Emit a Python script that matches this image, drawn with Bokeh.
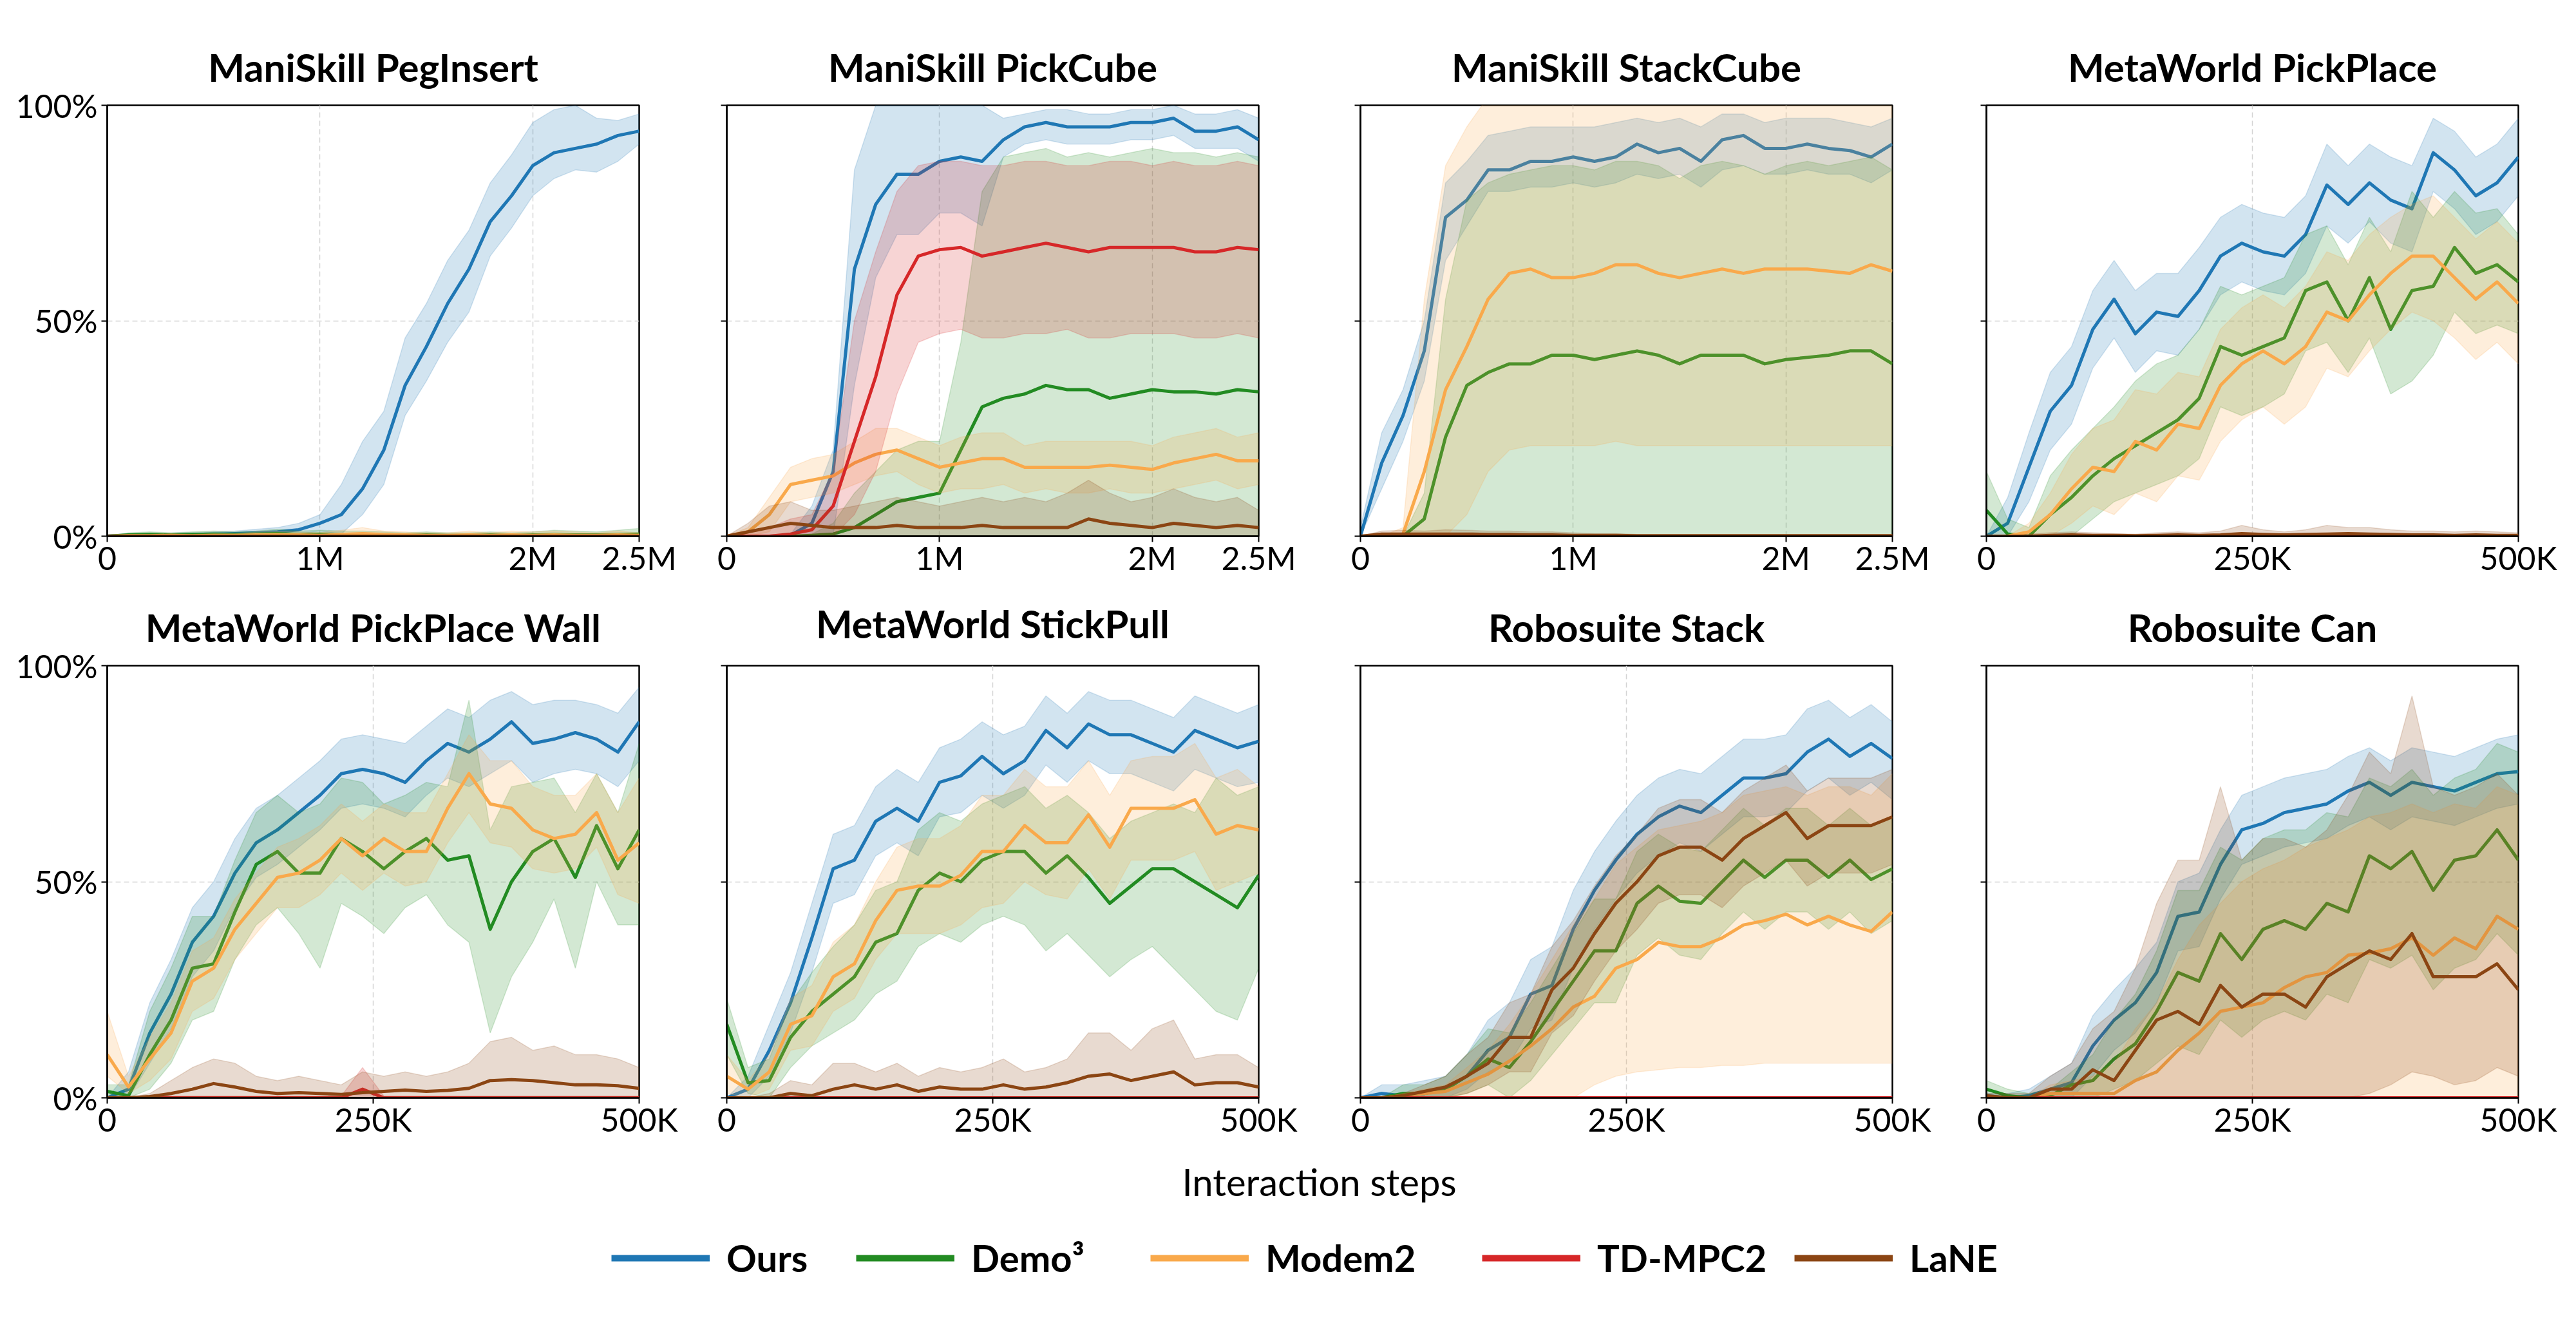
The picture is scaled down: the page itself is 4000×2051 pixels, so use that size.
from bokeh.plotting import figure
from bokeh.layouts import column, row
from bokeh.models import Range1d, FixedTicker, Legend, LegendItem, Label, CustomJSTickFormatter
from bokeh.embed import file_html
from bokeh.resources import INLINE

METHODS = ["Ours", "Demo\u00b3", "Modem2", "TD-MPC2", "LaNE"]
COLORS = ["#1f77b4", "#228b22", "#f9a94b", "#d62728", "#8b4513"]

X_M = [i * 100000 for i in range(26)]   # 0 .. 2.5M sampling grid
X_K = [i * 20000 for i in range(26)]    # 0 .. 500K sampling grid
X_TICKS_M = [0, 1000000, 2000000, 2500000]
X_TICKS_K = [0, 250000, 500000]
Y_TICKS = [0, 0.5, 1.0]

Z = [0, 0, 0, 0, 0, 0, 0, 0, 0, 0, 0, 0, 0, 0, 0, 0, 0, 0, 0, 0, 0, 0, 0, 0, 0, 0]

# ---------------- ManiSkill PegInsert ----------------
PEG_OURS = [0, .002, .003, .003, .004, .005, .006, .008, .010, .015, .030, .050, .110, .200, .350, .440, .540, .620, .730, .790, .860, .890, .900, .910, .930, .940]
PEG_OURS_LO = [0, 0, 0, 0, 0, 0, 0, 0, 0, .005, .012, .005, .050, .120, .280, .360, .450, .520, .650, .715, .790, .830, .850, .845, .870, .910]
PEG_OURS_HI = [.004, .005, .006, .007, .008, .010, .012, .016, .020, .030, .050, .120, .220, .290, .460, .540, .640, .710, .820, .885, .960, .990, 1.0, .970, .965, .980]
PEG_DEMO = [0, .003, .004, .003, .004, .005, .004, .005, .006, .004, .005, .004, .004, .003, .002, .003, .002, .002, .003, .002, .003, .004, .003, .003, .004, .005]
PEG_DEMO_HI = [0, .008, .010, .008, .010, .012, .010, .012, .016, .012, .014, .012, .012, .010, .008, .010, .008, .008, .010, .008, .010, .014, .012, .010, .014, .018]
PEG_MODEM = [0, .001, .001, .002, .001, .002, .002, .003, .003, .003, .002, .004, .006, .004, .003, .002, .002, .003, .002, .003, .002, .003, .002, .002, .003, .002]
PEG_MODEM_HI = [0, .004, .004, .006, .004, .006, .006, .010, .012, .010, .008, .014, .020, .012, .010, .008, .008, .012, .008, .012, .010, .012, .010, .008, .012, .008]

# ---------------- ManiSkill PickCube ----------------
PICK_OURS = [0, 0, 0, .002, .03, .15, .62, .77, .84, .84, .87, .88, .87, .92, .95, .96, .95, .95, .95, .96, .96, .97, .94, .94, .95, .92]
PICK_OURS_LO = [0, 0, 0, 0, 0, 0, .35, .60, .70, .70, .75, .75, .72, .88, .91, .92, .91, .91, .91, .92, .92, .93, .90, .90, .90, .87]
PICK_OURS_HI = [0, 0, 0, .005, .07, .20, .85, 1.0, 1.0, 1.0, 1.0, 1.0, 1.0, .97, .98, .99, .99, .98, .98, .99, .99, 1.0, .98, .98, .99, .97]
PICK_DEMO = [0, 0, 0, 0, .002, .005, .02, .05, .08, .09, .10, .20, .30, .32, .33, .35, .34, .34, .32, .33, .34, .335, .335, .33, .34, .335]
PICK_DEMO_HI = [0, 0, 0, 0, .005, .03, .10, .15, .20, .22, .22, .45, .80, .88, .89, .90, .88, .89, .88, .89, .90, .89, .89, .88, .89, .88]
PICK_MODEM = [0, .01, .05, .12, .13, .14, .17, .19, .20, .18, .16, .17, .18, .18, .16, .16, .16, .16, .165, .16, .155, .17, .18, .19, .175, .175]
PICK_MODEM_LO = [0, 0, .01, .08, .09, .10, .12, .14, .15, .12, .10, .11, .11, .12, .10, .11, .10, .10, .11, .10, .10, .11, .12, .13, .11, .12]
PICK_MODEM_HI = [0, .02, .09, .16, .18, .19, .22, .25, .25, .23, .21, .23, .24, .24, .21, .22, .22, .22, .22, .22, .21, .23, .24, .25, .23, .24]
PICK_TDMPC = [0, 0, 0, .005, .015, .07, .22, .37, .56, .65, .665, .67, .65, .66, .67, .68, .67, .66, .67, .67, .67, .67, .66, .66, .67, .665]
PICK_TDMPC_LO = [0, 0, 0, 0, 0, 0, .05, .15, .33, .45, .47, .48, .46, .46, .47, .47, .48, .46, .46, .47, .47, .47, .46, .46, .47, .46]
PICK_TDMPC_HI = [0, .01, .02, .04, .05, .15, .50, .66, .80, .86, .87, .87, .86, .86, .87, .87, .86, .86, .87, .87, .86, .87, .86, .86, .87, .86]
PICK_LANE = [0, .01, .02, .03, .025, .02, .02, .02, .025, .02, .02, .02, .025, .02, .02, .02, .02, .04, .03, .025, .02, .03, .025, .02, .025, .02]
PICK_LANE_HI = [0, .03, .07, .08, .06, .06, .07, .08, .09, .08, .07, .08, .09, .08, .09, .08, .10, .13, .10, .08, .09, .11, .09, .08, .09, .06]

# ---------------- ManiSkill StackCube ----------------
STACK_OURS = [0, .17, .28, .43, .74, .78, .85, .85, .87, .87, .88, .87, .88, .91, .89, .90, .87, .92, .93, .90, .90, .91, .90, .895, .88, .91]
STACK_OURS_LO = [0, .11, .22, .36, .64, .72, .80, .80, .81, .81, .82, .81, .82, .84, .83, .84, .81, .85, .86, .84, .84, .85, .84, .84, .82, .85]
STACK_OURS_HI = [.02, .24, .34, .50, .82, .87, .93, .94, .95, .95, .95, .95, .96, .97, .96, .97, .95, .98, .98, .96, .97, .97, .97, .96, .95, .97]
STACK_DEMO = [0, 0, 0, .04, .23, .35, .38, .40, .40, .42, .42, .41, .42, .43, .42, .40, .42, .42, .42, .40, .41, .415, .42, .43, .43, .40]
STACK_DEMO_HI = [0, 0, 0, .10, .55, .78, .82, .84, .85, .86, .86, .85, .87, .87, .86, .83, .86, .87, .86, .84, .86, .87, .86, .87, .88, .85]
STACK_MODEM = [0, 0, .005, .15, .34, .44, .55, .61, .62, .60, .60, .61, .63, .63, .61, .60, .61, .62, .61, .62, .62, .62, .615, .61, .63, .615]
STACK_MODEM_LO = [0, 0, 0, 0, 0, .05, .15, .20, .21, .21, .21, .21, .22, .21, .21, .21, .21, .21, .21, .21, .21, .21, .21, .21, .21, .21]
STACK_MODEM_HI = [0, 0, .02, .55, .86, .95, 1.02, 1.02, 1.02, 1.02, 1.02, 1.02, 1.02, 1.02, 1.02, 1.02, 1.02, 1.02, 1.02, 1.02, 1.02, 1.02, 1.02, 1.02, 1.02, 1.02]
STACK_LANE = [0, .005, .005, .005, .005, .005, .004, .004, .003, .003, .002, .002, .002, .001, .001, .001, .001, .001, .001, .001, .001, .001, .001, .001, .001, .001]
STACK_LANE_HI = [0, .012, .014, .012, .015, .014, .012, .012, .010, .010, .008, .006, .006, .004, .004, .004, .004, .004, .004, .004, .004, .004, .004, .004, .004, .004]

# ---------------- MetaWorld PickPlace ----------------
PP_OURS = [0, .03, .16, .29, .35, .48, .55, .47, .52, .51, .57, .65, .68, .66, .65, .70, .815, .77, .82, .78, .76, .89, .85, .79, .82, .88]
PP_OURS_LO = [0, 0, .08, .20, .26, .39, .46, .38, .43, .42, .48, .56, .59, .57, .56, .61, .72, .68, .73, .68, .66, .80, .76, .70, .73, .79]
PP_OURS_HI = [0, .09, .24, .38, .44, .57, .64, .57, .61, .61, .67, .74, .77, .75, .74, .79, .91, .86, .91, .88, .86, .97, .94, .88, .91, .97]
PP_DEMO = [.06, .005, 0, .05, .09, .14, .18, .21, .24, .27, .32, .44, .42, .44, .46, .57, .59, .50, .60, .48, .57, .58, .67, .61, .63, .59]
PP_DEMO_LO = [0, 0, 0, 0, 0, .04, .08, .10, .12, .14, .18, .30, .28, .30, .33, .43, .45, .38, .46, .33, .36, .42, .52, .47, .49, .47]
PP_DEMO_HI = [.15, .04, .02, .14, .20, .25, .30, .36, .40, .42, .48, .58, .56, .58, .60, .70, .72, .63, .74, .66, .80, .74, .80, .75, .76, .70]
PP_MODEM = [0, 0, .01, .05, .11, .16, .15, .22, .20, .26, .25, .35, .40, .43, .40, .44, .52, .50, .56, .61, .65, .65, .60, .55, .59, .54]
PP_MODEM_LO = [0, 0, 0, 0, .03, .07, .05, .10, .08, .14, .13, .22, .27, .30, .26, .30, .39, .37, .43, .48, .52, .50, .46, .41, .45, .40]
PP_MODEM_HI = [0, 0, .03, .10, .19, .25, .27, .34, .33, .38, .37, .48, .53, .56, .53, .58, .66, .64, .70, .74, .77, .79, .74, .69, .73, .68]
PP_LANE = [0, 0, 0, .002, .003, .002, .002, .001, .002, .003, .002, .003, .006, .004, .003, .004, .005, .006, .005, .004, .003, .003, .002, .003, .002, .002]
PP_LANE_HI = [0, 0, .005, .008, .010, .008, .006, .005, .008, .010, .008, .012, .025, .015, .010, .015, .025, .020, .020, .015, .012, .012, .010, .012, .010, .008]

# ---------------- MetaWorld PickPlace Wall ----------------
PPW_OURS = [0, .02, .15, .24, .36, .42, .52, .59, .62, .66, .70, .75, .76, .75, .73, .78, .82, .80, .83, .87, .82, .83, .845, .83, .80, .87]
PPW_OURS_LO = [0, 0, .08, .16, .28, .34, .44, .51, .54, .58, .62, .67, .68, .67, .65, .70, .74, .72, .75, .78, .73, .75, .76, .75, .72, .78]
PPW_OURS_HI = [0, .06, .22, .32, .44, .50, .60, .67, .70, .74, .78, .83, .84, .83, .82, .86, .90, .88, .92, .94, .91, .92, .92, .91, .89, .95]
PPW_DEMO = [.015, .005, .10, .18, .30, .31, .43, .54, .57, .52, .52, .60, .57, .53, .57, .60, .55, .56, .39, .50, .57, .60, .51, .63, .53, .62]
PPW_DEMO_LO = [0, 0, .02, .08, .18, .20, .32, .40, .44, .38, .30, .45, .42, .38, .44, .47, .40, .36, .15, .28, .36, .46, .30, .50, .40, .40]
PPW_DEMO_HI = [.03, .03, .20, .30, .42, .42, .55, .66, .70, .66, .68, .74, .73, .68, .70, .73, .72, .92, .62, .72, .73, .74, .66, .75, .66, .82]
PPW_MODEM = [.10, .025, .09, .15, .27, .30, .39, .45, .51, .52, .55, .60, .56, .60, .57, .57, .67, .75, .68, .67, .62, .60, .61, .66, .55, .59]
PPW_MODEM_LO = [.05, .01, .04, .09, .20, .23, .32, .38, .44, .44, .47, .52, .48, .52, .49, .50, .59, .66, .59, .58, .53, .52, .53, .58, .47, .45]
PPW_MODEM_HI = [.20, .05, .14, .22, .34, .37, .46, .52, .58, .60, .63, .68, .64, .68, .66, .66, .75, .84, .78, .78, .72, .70, .70, .75, .66, .74]
PPW_TDMPC = [0, 0, 0, 0, 0, 0, 0, 0, 0, 0, 0, 0, .02, 0, 0, 0, 0, 0, 0, 0, 0, 0, 0, 0, 0, 0]
PPW_TDMPC_HI = [.004, .004, .004, .004, .004, .004, .004, .004, .004, .004, .004, .004, .07, .004, .004, .004, .004, .004, .004, .004, .004, .004, .004, .004, .004, .004]
PPW_LANE = [0, 0, .003, .01, .02, .033, .025, .015, .01, .012, .01, .008, .012, .015, .018, .015, .017, .022, .04, .042, .04, .035, .03, .03, .028, .022]
PPW_LANE_HI = [0, 0, .01, .04, .07, .09, .08, .05, .04, .05, .04, .03, .06, .05, .06, .05, .06, .08, .13, .14, .11, .12, .10, .10, .09, .07]

# ---------------- MetaWorld StickPull ----------------
SP_OURS = [0, .02, .11, .22, .37, .53, .55, .64, .67, .64, .73, .745, .79, .75, .78, .85, .81, .865, .84, .84, .82, .80, .85, .83, .81, .825]
SP_OURS_LO = [0, 0, .05, .15, .29, .45, .47, .56, .59, .56, .65, .66, .70, .67, .70, .77, .73, .78, .75, .75, .73, .71, .76, .74, .72, .73]
SP_OURS_HI = [0, .05, .17, .29, .45, .61, .63, .72, .76, .73, .81, .83, .87, .84, .86, .93, .89, .94, .92, .92, .90, .88, .93, .91, .89, .91]
SP_DEMO = [.17, .035, .04, .14, .20, .24, .28, .36, .38, .48, .52, .50, .55, .57, .57, .52, .56, .51, .45, .49, .53, .53, .50, .47, .44, .515]
SP_DEMO_LO = [.10, .01, 0, .07, .12, .15, .18, .24, .27, .35, .38, .36, .40, .42, .40, .34, .38, .33, .28, .32, .35, .30, .25, .20, .18, .30]
SP_DEMO_HI = [.23, .07, .09, .22, .29, .35, .40, .48, .50, .62, .66, .64, .68, .70, .72, .67, .70, .66, .60, .64, .66, .68, .66, .74, .70, .72]
SP_MODEM = [.05, .02, .06, .17, .19, .28, .31, .41, .48, .49, .49, .515, .57, .57, .63, .59, .59, .655, .58, .67, .67, .67, .69, .61, .63, .62]
SP_MODEM_LO = [.01, 0, .02, .11, .12, .20, .23, .32, .38, .38, .38, .40, .44, .45, .50, .47, .46, .53, .46, .55, .55, .55, .57, .48, .50, .52]
SP_MODEM_HI = [.10, .04, .10, .23, .26, .36, .40, .50, .58, .60, .60, .63, .70, .70, .76, .72, .72, .78, .70, .78, .79, .79, .82, .74, .76, .72]
SP_LANE = [0, 0, 0, .01, .005, .02, .03, .02, .03, .015, .025, .02, .02, .03, .02, .025, .035, .05, .055, .04, .05, .06, .03, .035, .035, .025]
SP_LANE_HI = [0, 0, .01, .04, .03, .08, .08, .06, .08, .05, .07, .06, .07, .09, .06, .07, .09, .15, .15, .11, .16, .18, .09, .10, .10, .07]

# ---------------- Robosuite Stack ----------------
RS_OURS = [0, .01, .005, .01, .02, .05, .11, .14, .24, .26, .39, .48, .55, .61, .65, .675, .66, .70, .74, .74, .75, .80, .83, .79, .82, .785]
RS_OURS_LO = [0, 0, 0, 0, 0, .02, .06, .08, .16, .18, .30, .39, .46, .52, .56, .59, .57, .61, .65, .65, .66, .71, .74, .70, .73, .69]
RS_OURS_HI = [0, .03, .03, .04, .05, .10, .18, .22, .32, .35, .48, .57, .64, .70, .74, .76, .75, .79, .83, .83, .84, .90, .92, .88, .91, .87]
RS_DEMO = [0, 0, .01, .01, .02, .05, .09, .07, .13, .20, .27, .34, .34, .45, .49, .455, .45, .50, .55, .51, .55, .55, .51, .55, .505, .53]
RS_DEMO_LO = [0, 0, 0, 0, 0, .01, .03, 0, .04, .10, .16, .22, .22, .33, .37, .33, .32, .38, .43, .39, .43, .43, .39, .43, .38, .41]
RS_DEMO_HI = [0, 0, .03, .03, .05, .10, .16, .15, .22, .30, .38, .46, .46, .57, .61, .58, .57, .62, .67, .63, .67, .67, .63, .67, .63, .65]
RS_MODEM = [0, 0, .005, .01, .015, .035, .055, .085, .12, .16, .21, .235, .30, .32, .36, .35, .35, .37, .40, .41, .425, .40, .42, .40, .385, .43]
RS_MODEM_LO = [0, 0, 0, 0, 0, 0, 0, 0, 0, 0, 0, .03, .05, .06, .065, .07, .07, .075, .075, .08, .08, .08, .08, .08, .08, .08]
RS_MODEM_HI = [0, 0, .01, .02, .03, .07, .11, .17, .24, .32, .40, .46, .54, .58, .62, .63, .64, .66, .70, .71, .72, .70, .72, .72, .70, .75]
RS_LANE = [0, 0, .005, .015, .025, .05, .08, .14, .14, .25, .30, .38, .45, .50, .56, .58, .58, .55, .60, .63, .66, .60, .63, .63, .63, .65]
RS_LANE_LO = [0, 0, 0, 0, 0, .01, .03, .06, .06, .15, .19, .27, .34, .39, .45, .47, .47, .44, .49, .52, .55, .49, .52, .52, .52, .54]
RS_LANE_HI = [0, 0, .01, .03, .05, .10, .14, .22, .24, .35, .41, .49, .56, .61, .67, .69, .69, .66, .71, .74, .77, .71, .74, .74, .74, .76]

# ---------------- Robosuite Can ----------------
RC_OURS = [.005, 0, .005, .02, .035, .12, .18, .22, .29, .42, .43, .54, .62, .635, .66, .67, .68, .71, .73, .70, .73, .72, .71, .73, .75, .755]
RC_OURS_LO = [0, 0, 0, 0, 0, .05, .11, .15, .22, .34, .35, .46, .54, .56, .58, .59, .60, .63, .65, .62, .65, .64, .63, .65, .67, .68]
RC_OURS_HI = [.01, .01, .02, .05, .08, .19, .25, .30, .36, .50, .52, .62, .70, .72, .74, .75, .76, .79, .81, .78, .81, .80, .79, .81, .83, .84]
RC_DEMO = [.02, .005, 0, .005, .03, .04, .09, .125, .20, .29, .27, .38, .32, .39, .41, .39, .45, .43, .56, .53, .57, .48, .55, .56, .62, .55]
RC_DEMO_LO = [0, 0, 0, 0, 0, 0, .02, .04, .08, .12, .10, .18, .14, .18, .20, .18, .24, .22, .32, .30, .33, .25, .30, .32, .38, .33]
RC_DEMO_HI = [.04, .02, .01, .02, .06, .10, .18, .24, .34, .48, .48, .58, .55, .60, .62, .62, .66, .65, .74, .72, .76, .70, .74, .76, .82, .80]
RC_MODEM = [0, 0, 0, .01, .01, .01, .01, .04, .06, .11, .15, .20, .21, .22, .255, .28, .29, .33, .335, .345, .37, .33, .37, .345, .42, .39]
RC_MODEM_HI = [0, 0, 0, .03, .04, .05, .08, .16, .22, .32, .40, .45, .50, .53, .55, .58, .60, .62, .65, .66, .68, .66, .68, .67, .72, .70]
RC_LANE = [.005, 0, 0, .02, .02, .065, .04, .11, .18, .20, .17, .26, .21, .24, .24, .21, .28, .31, .34, .32, .38, .28, .28, .28, .31, .25]
RC_LANE_LO = [0, 0, 0, 0, 0, 0, 0, 0, 0, 0, 0, 0, 0, 0, 0, 0, 0, 0, .01, .03, .06, .05, .03, .04, .07, .05]
RC_LANE_HI = [.01, .01, .01, .05, .08, .16, .20, .30, .45, .55, .55, .72, .55, .60, .60, .58, .62, .70, .80, .75, .93, .72, .70, .72, .75, .70]

# series order: Ours, Demo3, Modem2, TD-MPC2, LaNE  -> (mean, lower, upper)
PANELS = [
    ("ManiSkill PegInsert", X_M, 2500000, X_TICKS_M,
     [(PEG_OURS, PEG_OURS_LO, PEG_OURS_HI), (PEG_DEMO, Z, PEG_DEMO_HI), (PEG_MODEM, Z, PEG_MODEM_HI), (Z, Z, Z), (Z, Z, Z)]),
    ("ManiSkill PickCube", X_M, 2500000, X_TICKS_M,
     [(PICK_OURS, PICK_OURS_LO, PICK_OURS_HI), (PICK_DEMO, Z, PICK_DEMO_HI), (PICK_MODEM, PICK_MODEM_LO, PICK_MODEM_HI),
      (PICK_TDMPC, PICK_TDMPC_LO, PICK_TDMPC_HI), (PICK_LANE, Z, PICK_LANE_HI)]),
    ("ManiSkill StackCube", X_M, 2500000, X_TICKS_M,
     [(STACK_OURS, STACK_OURS_LO, STACK_OURS_HI), (STACK_DEMO, Z, STACK_DEMO_HI), (STACK_MODEM, STACK_MODEM_LO, STACK_MODEM_HI),
      (Z, Z, Z), (STACK_LANE, Z, STACK_LANE_HI)]),
    ("MetaWorld PickPlace", X_K, 500000, X_TICKS_K,
     [(PP_OURS, PP_OURS_LO, PP_OURS_HI), (PP_DEMO, PP_DEMO_LO, PP_DEMO_HI), (PP_MODEM, PP_MODEM_LO, PP_MODEM_HI),
      (Z, Z, Z), (PP_LANE, Z, PP_LANE_HI)]),
    ("MetaWorld PickPlace Wall", X_K, 500000, X_TICKS_K,
     [(PPW_OURS, PPW_OURS_LO, PPW_OURS_HI), (PPW_DEMO, PPW_DEMO_LO, PPW_DEMO_HI), (PPW_MODEM, PPW_MODEM_LO, PPW_MODEM_HI),
      (PPW_TDMPC, Z, PPW_TDMPC_HI), (PPW_LANE, Z, PPW_LANE_HI)]),
    ("MetaWorld StickPull", X_K, 500000, X_TICKS_K,
     [(SP_OURS, SP_OURS_LO, SP_OURS_HI), (SP_DEMO, SP_DEMO_LO, SP_DEMO_HI), (SP_MODEM, SP_MODEM_LO, SP_MODEM_HI),
      (Z, Z, Z), (SP_LANE, Z, SP_LANE_HI)]),
    ("Robosuite Stack", X_K, 500000, X_TICKS_K,
     [(RS_OURS, RS_OURS_LO, RS_OURS_HI), (RS_DEMO, RS_DEMO_LO, RS_DEMO_HI), (RS_MODEM, RS_MODEM_LO, RS_MODEM_HI),
      (Z, Z, Z), (RS_LANE, RS_LANE_LO, RS_LANE_HI)]),
    ("Robosuite Can", X_K, 500000, X_TICKS_K,
     [(RC_OURS, RC_OURS_LO, RC_OURS_HI), (RC_DEMO, RC_DEMO_LO, RC_DEMO_HI), (RC_MODEM, Z, RC_MODEM_HI),
      (Z, Z, Z), (RC_LANE, RC_LANE_LO, RC_LANE_HI)]),
]

FONT = "Lato"
COL_W = [1060, 975, 975, 990]
COL_BL = [166, 68, 77, 74]
COL_BR = [68, 81, 72, 90]
ROW_H = [898, 892]
ROW_BT = [163, 135]
ROW_BB = [64, 86]

X_FMT = CustomJSTickFormatter(code="""
if (tick >= 1000000) { return (tick / 1000000) + 'M'; }
if (tick > 0) { return (tick / 1000) + 'K'; }
return '0';
""")
Y_FMT = CustomJSTickFormatter(code="return Math.round(tick * 100) + '%';")
Y_EMPTY = CustomJSTickFormatter(code="return '';")


def make_panel(idx, spec):
    title, xs, xmax, xticks, series = spec
    r, c = divmod(idx, 4)
    p = figure(width=COL_W[c], height=ROW_H[r],
               x_range=Range1d(0, xmax), y_range=Range1d(0, 1),
               output_backend="svg", toolbar_location=None,
               min_border_left=COL_BL[c], min_border_right=COL_BR[c],
               min_border_top=ROW_BT[r], min_border_bottom=ROW_BB[r])
    p.title.text = title
    p.title.align = "center"
    p.title.text_font = FONT
    p.title.text_font_style = "bold"
    p.title.text_font_size = "60px"
    p.title.text_color = "black"
    p.title.standoff = 59 if idx == 5 else 47
    p.background_fill_color = "white"
    p.border_fill_color = "white"
    p.outline_line_color = "black"
    p.outline_line_width = 2.5
    p.outline_line_alpha = 1.0

    p.xaxis.ticker = FixedTicker(ticks=xticks)
    p.xaxis.formatter = X_FMT
    p.yaxis.ticker = FixedTicker(ticks=Y_TICKS)
    p.yaxis.formatter = Y_FMT if c == 0 else Y_EMPTY
    for ax in (p.xaxis[0], p.yaxis[0]):
        ax.axis_line_color = "black"
        ax.axis_line_width = 2.5
        ax.major_tick_line_color = "black"
        ax.major_tick_line_width = 2
        ax.major_tick_out = 9
        ax.major_tick_in = 0
        ax.minor_tick_line_color = None
        ax.major_label_text_font = FONT
        ax.major_label_text_font_size = "50px"
        ax.major_label_text_color = "black"
    p.xaxis[0].major_label_standoff = -6
    p.yaxis[0].major_label_standoff = 6
    for g in (p.xgrid[0], p.ygrid[0]):
        g.grid_line_color = "#d4d4d4"
        g.grid_line_dash = "8 5"
        g.grid_line_width = 1.5

    for (mean, lo, hi), color in zip(series, COLORS):
        p.varea(x=xs, y1=lo, y2=hi, fill_color=color, fill_alpha=0.2)
        p.line(x=xs, y=lo, line_color=color, line_alpha=0.18, line_width=1.5)
        p.line(x=xs, y=hi, line_color=color, line_alpha=0.18, line_width=1.5)
        p.line(x=xs, y=mean, line_color=color, line_width=5, line_join="round")
    return p


figs = [make_panel(i, s) for i, s in enumerate(PANELS)]

# bottom strip: x-axis caption + legend
lf = figure(width=4000, height=261, x_range=Range1d(0, 4000), y_range=Range1d(0, 261),
            x_axis_type=None, y_axis_type=None, output_backend="svg", toolbar_location=None,
            min_border=0)
lf.outline_line_color = None
lf.xgrid.visible = False
lf.ygrid.visible = False
lf.add_layout(Label(x=2048, y=217, text="Interaction steps", text_align="center",
                    text_baseline="middle", text_font=FONT, text_font_size="58px",
                    text_color="black"))

LEG_X = [949, 1329, 1786, 2301, 2786]
for name, color, lx in zip(METHODS, COLORS, LEG_X):
    # legend-only renderer, its data lies outside the visible range
    rr = lf.line(x=[-500, -400], y=[-500, -500], line_color=color, line_width=10)
    leg = Legend(items=[LegendItem(label=name, renderers=[rr])], location=(lx, 64),
                 orientation="horizontal", glyph_width=153, glyph_height=50,
                 label_text_font=FONT, label_text_font_style="bold",
                 label_text_font_size="58px", label_text_color="black",
                 label_standoff=26, padding=0, margin=0, spacing=0,
                 border_line_color=None, background_fill_alpha=0)
    lf.add_layout(leg)

layout = column(row(*figs[:4]), row(*figs[4:]), lf)

with open("out.html", "w") as fh:
    fh.write(file_html(layout, INLINE, title="Success rates"))
